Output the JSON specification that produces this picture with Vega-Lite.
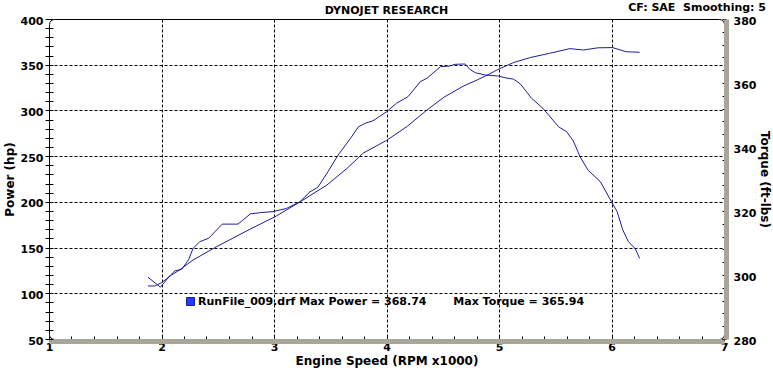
{
  "$schema": "https://vega.github.io/schema/vega-lite/v6.json",
  "width": 675,
  "height": 320,
  "autosize": {"type": "none"},
  "padding": {"left": 49, "top": 19, "right": 49, "bottom": 32},
  "background": "white",
  "config": {
    "font": "DejaVu Sans",
    "view": {"stroke": "black", "strokeWidth": 1, "cornerRadius": 5},
    "axis": {
      "labelFont": "DejaVu Sans", "labelFontWeight": "bold", "labelFontSize": 11, "labelColor": "black",
      "titleFont": "DejaVu Sans", "titleFontWeight": "bold", "titleFontSize": 12, "titleColor": "black",
      "tickColor": "black", "tickWidth": 1, "labelOverlap": false, "labelFlush": false,
      "gridColor": "black", "gridDash": [3, 2], "gridWidth": 1
    }
  },
  "datasets": {
    "power": [
      {"rpm": 1.88, "hp": 108.0}, {"rpm": 1.94, "hp": 108.0}, {"rpm": 2.0, "hp": 111.6}, {"rpm": 2.09, "hp": 120.0},
      {"rpm": 2.16, "hp": 125.5}, {"rpm": 2.28, "hp": 136.4}, {"rpm": 2.49, "hp": 151.0}, {"rpm": 2.79, "hp": 170.3},
      {"rpm": 3.01, "hp": 183.8}, {"rpm": 3.22, "hp": 199.1}, {"rpm": 3.47, "hp": 218.4}, {"rpm": 3.65, "hp": 236.7},
      {"rpm": 3.79, "hp": 253.1}, {"rpm": 4.0, "hp": 267.2}, {"rpm": 4.18, "hp": 282.2}, {"rpm": 4.36, "hp": 300.5},
      {"rpm": 4.51, "hp": 314.4}, {"rpm": 4.68, "hp": 326.4}, {"rpm": 4.81, "hp": 333.6}, {"rpm": 4.91, "hp": 339.5},
      {"rpm": 4.99, "hp": 344.8}, {"rpm": 5.13, "hp": 352.4}, {"rpm": 5.28, "hp": 357.9}, {"rpm": 5.45, "hp": 362.5},
      {"rpm": 5.63, "hp": 367.6}, {"rpm": 5.75, "hp": 366.1}, {"rpm": 5.88, "hp": 368.5}, {"rpm": 6.01, "hp": 368.74},
      {"rpm": 6.13, "hp": 364.2}, {"rpm": 6.25, "hp": 363.6}
    ],
    "torque": [
      {"rpm": 1.88, "tq": 299.3}, {"rpm": 1.99, "tq": 296.2}, {"rpm": 2.08, "tq": 300.0}, {"rpm": 2.12, "tq": 301.3},
      {"rpm": 2.18, "tq": 301.8}, {"rpm": 2.24, "tq": 304.7}, {"rpm": 2.28, "tq": 308.3}, {"rpm": 2.34, "tq": 310.4},
      {"rpm": 2.42, "tq": 311.5}, {"rpm": 2.54, "tq": 315.9}, {"rpm": 2.68, "tq": 315.9}, {"rpm": 2.79, "tq": 319.1},
      {"rpm": 2.88, "tq": 319.5}, {"rpm": 2.99, "tq": 319.8}, {"rpm": 3.11, "tq": 320.8}, {"rpm": 3.23, "tq": 322.9},
      {"rpm": 3.32, "tq": 326.0}, {"rpm": 3.39, "tq": 327.4}, {"rpm": 3.48, "tq": 332.3}, {"rpm": 3.57, "tq": 337.5},
      {"rpm": 3.68, "tq": 342.7}, {"rpm": 3.75, "tq": 346.3}, {"rpm": 3.81, "tq": 347.4}, {"rpm": 3.88, "tq": 348.2},
      {"rpm": 4.0, "tq": 351.0}, {"rpm": 4.09, "tq": 353.7}, {"rpm": 4.19, "tq": 355.7}, {"rpm": 4.24, "tq": 357.8},
      {"rpm": 4.3, "tq": 360.4}, {"rpm": 4.36, "tq": 361.5}, {"rpm": 4.48, "tq": 365.1}, {"rpm": 4.56, "tq": 365.3},
      {"rpm": 4.61, "tq": 365.84}, {"rpm": 4.7, "tq": 365.94}, {"rpm": 4.74, "tq": 364.3}, {"rpm": 4.79, "tq": 363.2},
      {"rpm": 4.88, "tq": 362.5}, {"rpm": 4.99, "tq": 362.2}, {"rpm": 5.06, "tq": 361.6}, {"rpm": 5.13, "tq": 361.2},
      {"rpm": 5.19, "tq": 359.7}, {"rpm": 5.29, "tq": 355.2}, {"rpm": 5.39, "tq": 352.1}, {"rpm": 5.53, "tq": 346.3},
      {"rpm": 5.6, "tq": 344.8}, {"rpm": 5.66, "tq": 341.9}, {"rpm": 5.72, "tq": 337.0}, {"rpm": 5.79, "tq": 332.8},
      {"rpm": 5.9, "tq": 329.2}, {"rpm": 6.0, "tq": 322.9}, {"rpm": 6.05, "tq": 319.8}, {"rpm": 6.1, "tq": 314.1},
      {"rpm": 6.15, "tq": 310.4}, {"rpm": 6.21, "tq": 308.3}, {"rpm": 6.25, "tq": 305.2}
    ]
  },
  "layer": [
    {
      "layer": [
        {
          "data": {"name": "power"},
          "mark": {"type": "line", "strokeWidth": 1},
          "encoding": {
            "x": {
              "field": "rpm", "type": "quantitative", "title": "Engine Speed (RPM x1000)",
              "scale": {"domain": [1, 7], "nice": false, "zero": false},
              "axis": {
                "values": [1, 1.2, 1.4, 1.6, 1.8, 2, 2.2, 2.4, 2.6, 2.8, 3, 3.2, 3.4, 3.6, 3.8, 4, 4.2, 4.4, 4.6, 4.8, 5, 5.2, 5.4, 5.6, 5.8, 6, 6.2, 6.4, 6.6, 6.8, 7],
                "tickCount": 100,
                "labelExpr": "abs(datum.value - round(datum.value)) < 0.01 ? format(datum.value, 'd') : ''",
                "offset": 2,
                "domainColor": "#a9a59b", "domainWidth": 5,
                "tickSize": -5,
                "labelPadding": 5,
                "titlePadding": 3,
                "grid": true,
                "gridOpacity": {"condition": {"test": "datum.value > 1.5 && datum.value < 6.5 && abs(datum.value - round(datum.value)) < 0.01", "value": 1}, "value": 0}
              }
            },
            "y": {
              "field": "hp", "type": "quantitative", "title": "Power (hp)",
              "scale": {"domain": [50, 400], "nice": false, "zero": false},
              "axis": {
                "orient": "left",
                "values": [50, 60, 70, 80, 90, 100, 110, 120, 130, 140, 150, 160, 170, 180, 190, 200, 210, 220, 230, 240, 250, 260, 270, 280, 290, 300, 310, 320, 330, 340, 350, 360, 370, 380, 390, 400],
                "tickCount": 100,
                "labelExpr": "datum.value % 50 == 0 ? datum.label : ''",
                "labelOffset": 2,
                "offset": -4,
                "domain": false,
                "tickSize": 8,
                "labelPadding": 2,
                "titlePadding": 4,
                "grid": true,
                "gridOpacity": {"condition": {"test": "datum.value % 50 == 0 && datum.value > 60 && datum.value < 390", "value": 1}, "value": 0}
              }
            },
            "color": {
              "datum": "RunFile_009.drf Max Power = 368.74\u00a0\u00a0\u00a0\u00a0\u00a0\u00a0 Max Torque = 365.94",
              "type": "nominal",
              "scale": {"range": ["#1e1e9c"]},
              "legend": {
                "title": null, "orient": "none", "legendX": 136, "legendY": 277, "padding": 0,
                "labelFont": "DejaVu Sans", "labelFontWeight": "bold", "labelFontSize": 11, "labelColor": "black",
                "labelLimit": 800, "labelOffset": 2, "symbolType": "square", "symbolSize": 64,
                "encode": {"symbols": {"update": {"fill": {"value": "#1f3cff"}, "stroke": {"value": "#00006a"}, "strokeWidth": {"value": 1}, "shape": {"value": "square"}, "opacity": {"value": 1}}}}
              }
            }
          }
        },
        {
          "data": {"values": [{"note": "DYNOJET RESEARCH"}]},
          "mark": {"type": "text", "align": "center", "baseline": "alphabetic", "dy": -5, "font": "DejaVu Sans", "fontSize": 11, "fontWeight": "bold", "color": "black"},
          "encoding": {
            "x": {"datum": 4, "type": "quantitative", "title": "Engine Speed (RPM x1000)"},
            "y": {"datum": 400, "type": "quantitative", "title": "Power (hp)"},
            "text": {"field": "note", "type": "nominal"}
          }
        },
        {
          "data": {"values": [{"note": "CF: SAE\u00a0\u00a0Smoothing: 5"}]},
          "mark": {"type": "text", "align": "right", "baseline": "alphabetic", "dx": 42, "dy": -8, "font": "DejaVu Sans", "fontSize": 11, "fontWeight": "bold", "color": "black"},
          "encoding": {
            "x": {"datum": 7, "type": "quantitative", "title": "Engine Speed (RPM x1000)"},
            "y": {"datum": 400, "type": "quantitative", "title": "Power (hp)"},
            "text": {"field": "note", "type": "nominal"}
          }
        }
      ]
    },
    {
      "data": {"name": "torque"},
      "mark": {"type": "line", "strokeWidth": 1},
      "encoding": {
        "x": {"field": "rpm", "type": "quantitative", "title": "Engine Speed (RPM x1000)"},
        "y": {
          "field": "tq", "type": "quantitative", "title": "Torque (ft-lbs)",
          "scale": {"domain": [280, 380], "nice": false, "zero": false},
          "axis": {
            "orient": "right",
            "values": [280, 284, 288, 292, 296, 300, 304, 308, 312, 316, 320, 324, 328, 332, 336, 340, 344, 348, 352, 356, 360, 364, 368, 372, 376, 380],
            "tickCount": 100,
            "labelExpr": "datum.value % 20 == 0 ? datum.label : ''",
            "labelOffset": 2,
            "offset": 2,
            "domainColor": "#a9a59b", "domainWidth": 5,
            "tickSize": -4,
            "labelPadding": 11,
            "titlePadding": 2,
            "grid": false
          }
        },
        "color": {"datum": "RunFile_009.drf Max Power = 368.74\u00a0\u00a0\u00a0\u00a0\u00a0\u00a0 Max Torque = 365.94", "type": "nominal"}
      }
    }
  ],
  "resolve": {"scale": {"y": "independent"}}
}
